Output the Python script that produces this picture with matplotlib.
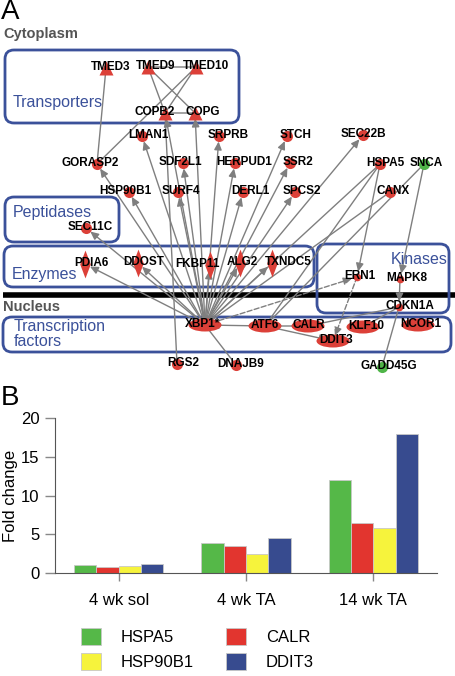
import matplotlib
matplotlib.use('Agg')
import matplotlib.pyplot as plt
from matplotlib.patches import FancyBboxPatch, FancyArrowPatch, Ellipse
import numpy as np

plt.rcParams['font.family'] = ['Liberation Sans', 'DejaVu Sans']

# ---- panel B data ----
conditions = ['4 wk sol', '4 wk TA', '14 wk TA']
genes = ['HSPA5', 'CALR', 'HSP90B1', 'DDIT3']
fold_hspa5 = [1.0, 3.85, 12.0]
fold_calr = [0.8, 3.5, 6.45]
fold_hsp90b1 = [0.85, 2.45, 5.8]
fold_ddit3 = [1.15, 4.55, 18.0]
bar_colors = ['#55b848', '#e2352f', '#f6f33c', '#374b8f']

# ---- panel A data: nodes (name, kind) ----
node_names = ['TMED3', 'TMED9', 'TMED10', 'COPB2', 'COPG',
              'LMAN1', 'SRPRB', 'STCH', 'SEC22B',
              'GORASP2', 'SDF2L1', 'HERPUD1', 'SSR2', 'HSPA5', 'SNCA',
              'HSP90B1', 'SURF4', 'DERL1', 'SPCS2', 'CANX',
              'SEC11C', 'PDIA6', 'DDOST', 'FKBP11', 'ALG2', 'TXNDC5',
              'ERN1', 'MAPK8', 'CDKN1A',
              'XBP1*', 'ATF6', 'CALR', 'KLF10', 'NCOR1', 'DDIT3',
              'RGS2', 'DNAJB9', 'GADD45G']
node_kinds = ['tri', 'tri', 'tri', 'tri', 'tri',
              'o', 'o', 'o', 'o',
              'o', 'o', 'o', 'o', 'o', 'g',
              'o', 'o', 'o', 'o', 'o',
              'o', 'd', 'd', 'd', 'd', 'd',
              's', 's', 's',
              'e', 'e', 'e', 'e', 'e', 'e',
              'o', 'o', 'g']

# edges: (source, target, style)  style: a=arrow, l=line, d=dashed arrow
edges = [('TMED3', 'GORASP2', 'l'), ('TMED10', 'GORASP2', 'l'),
         ('TMED9', 'TMED10', 'l'), ('TMED9', 'COPB2', 'l'),
         ('TMED9', 'COPG', 'l'), ('TMED10', 'COPB2', 'l'),
         ('COPB2', 'COPG', 'l'), ('COPB2', 'RGS2', 'l'),
         ('XBP1*', 'COPB2', 'a'), ('XBP1*', 'COPG', 'a'),
         ('XBP1*', 'GORASP2', 'a'), ('XBP1*', 'LMAN1', 'a'),
         ('XBP1*', 'SDF2L1', 'a'), ('XBP1*', 'SRPRB', 'a'),
         ('XBP1*', 'HERPUD1', 'a'), ('XBP1*', 'STCH', 'a'),
         ('XBP1*', 'SSR2', 'a'), ('XBP1*', 'SEC22B', 'a'),
         ('XBP1*', 'HSP90B1', 'a'), ('XBP1*', 'SURF4', 'a'),
         ('XBP1*', 'DERL1', 'a'), ('XBP1*', 'SPCS2', 'a'),
         ('XBP1*', 'SEC11C', 'a'), ('XBP1*', 'PDIA6', 'a'),
         ('XBP1*', 'DDOST', 'a'), ('XBP1*', 'FKBP11', 'a'),
         ('XBP1*', 'ALG2', 'a'), ('XBP1*', 'TXNDC5', 'a'),
         ('XBP1*', 'DNAJB9', 'l'), ('HSPA5', 'XBP1*', 'l'),
         ('HSPA5', 'ATF6', 'l'), ('CANX', 'XBP1*', 'l'),
         ('SNCA', 'ATF6', 'l'), ('HSPA5', 'ERN1', 'a'),
         ('SNCA', 'MAPK8', 'a'), ('MAPK8', 'CDKN1A', 'a'),
         ('XBP1*', 'ERN1', 'd'), ('ERN1', 'DDIT3', 'd'),
         ('ATF6', 'XBP1*', 'a'), ('ATF6', 'DDIT3', 'a'),
         ('ATF6', 'CALR', 'l'), ('CALR', 'CDKN1A', 'l'),
         ('KLF10', 'CDKN1A', 'l'), ('CDKN1A', 'GADD45G', 'l')]

# ---- panel A layout (pixel positions: marker x, marker y, label x) ----
node_xy = {
    'TMED3': (106, 68, 111), 'TMED9': (148, 67, 156), 'TMED10': (196, 67, 206),
    'COPB2': (165, 113, 155), 'COPG': (195, 113, 203),
    'LMAN1': (142, 136, 148), 'SRPRB': (219, 136, 228), 'STCH': (287, 136, 296),
    'SEC22B': (363, 135, 363),
    'GORASP2': (97, 164, 90), 'SDF2L1': (183, 163, 180), 'HERPUD1': (235, 163, 244),
    'SSR2': (290, 163, 298), 'HSPA5': (380, 164, 385), 'SNCA': (424, 164, 426),
    'HSP90B1': (129, 192, 125), 'SURF4': (178, 192, 181), 'DERL1': (243, 192, 250),
    'SPCS2': (295, 192, 302), 'CANX': (390, 192, 393),
    'SEC11C': (86, 228, 90), 'PDIA6': (85, 264, 91), 'DDOST': (138, 263, 144),
    'FKBP11': (210, 265, 198), 'ALG2': (240, 263, 242), 'TXNDC5': (272, 263, 288),
    'ERN1': (357, 277, 360), 'MAPK8': (400, 279, 407), 'CDKN1A': (399, 307, 410),
    'XBP1*': (205, 325, 203), 'ATF6': (265, 326, 265), 'CALR': (308, 326, 309),
    'KLF10': (363, 327, 366), 'NCOR1': (418, 325, 421), 'DDIT3': (333, 341, 336),
    'RGS2': (177, 364, 183), 'DNAJB9': (236, 365, 241), 'GADD45G': (382, 367, 389),
}

# group boxes: label, x0, y0, x1, y1
boxes = [('Transporters', 5, 50, 239, 123),
         ('Peptidases', 5, 197, 119, 242),
         ('Enzymes', 4, 246, 314, 287),
         ('Kinases', 317, 244, 449, 313),
         ('Transcription\nfactors', 3, 317, 451, 352)]
box_label_xy = {'Transporters': (13, 102, 'left'), 'Peptidases': (13, 213, 'left'),
                'Enzymes': (12, 275, 'left'), 'Kinases': (448, 260, 'right'),
                'Transcription\nfactors': (14, 334, 'left')}

RED = '#dc4038'
GREEN = '#4fb548'
BLUE_BOX = '#3b519a'
EDGE = '#7f7f7f'

fig = plt.figure(figsize=(4.56, 6.76), dpi=100)

# ---------- panel A ----------
axn = fig.add_axes([0, 0, 1, 1])
axn.set_xlim(0, 456)
axn.set_ylim(676, 0)
axn.axis('off')

for label, x0, y0, x1, y1 in boxes:
    axn.add_patch(FancyBboxPatch((x0, y0), x1 - x0, y1 - y0,
                                 boxstyle='round,pad=0,rounding_size=9',
                                 fill=False, edgecolor=BLUE_BOX, lw=2, zorder=2))
    lx, ly, ha = box_label_xy[label]
    axn.text(lx, ly, label, color=BLUE_BOX, fontsize=11.5, ha=ha, va='center',
             linespacing=0.95, zorder=6)

# membrane
axn.plot([3, 456], [295, 295], color='black', lw=4, solid_capstyle='butt', zorder=1)

for s, t, st in edges:
    xs, ys, _ = node_xy[s]
    xt, yt, _ = node_xy[t]
    if st == 'l':
        style = '-'
    else:
        style = '-|>,head_length=0.6,head_width=0.28'
    ls = '--' if st == 'd' else '-'
    arr = FancyArrowPatch((xs, ys), (xt, yt), arrowstyle=style, mutation_scale=8,
                          shrinkA=0, shrinkB=4 if st != 'l' else 0,
                          color=EDGE, lw=1, linestyle=ls, zorder=3)
    axn.add_patch(arr)

diamond = [(0, 1), (0.38, 0), (0, -1), (-0.38, 0), (0, 1)]
for name, kind in zip(node_names, node_kinds):
    mx, my, lx = node_xy[name]
    if kind == 'tri':
        axn.plot(mx, my, marker='^', ms=10, color=RED, mec='none', zorder=4)
    elif kind == 'o':
        axn.plot(mx, my, marker='o', ms=8, color=RED, mec='none', zorder=4)
    elif kind == 'g':
        axn.plot(mx, my, marker='o', ms=8, color=GREEN, mec='none', zorder=4)
    elif kind == 's':
        axn.plot(mx, my, marker='o', ms=5.5, color=RED, mec='none', zorder=4)
    elif kind == 'd':
        axn.plot(mx, my, marker=diamond, ms=20, color=RED, mec='none', zorder=4)
    elif kind == 'e':
        axn.add_patch(Ellipse((mx, my), 33, 13, color=RED, ec='none', zorder=4))
    axn.text(lx, my - 1, name, fontsize=8.5, fontweight='bold', ha='center',
             va='center', color='black', zorder=5)

axn.text(3, 34, 'Cytoplasm', fontsize=10.5, fontweight='bold', color='#555555',
         ha='left', va='center')
axn.text(3, 307, 'Nucleus', fontsize=10.5, fontweight='bold', color='#555555',
         ha='left', va='center')
axn.text(1, 12, 'A', fontsize=20, ha='left', va='center')
axn.text(1, 398, 'B', fontsize=20, ha='left', va='center')

# ---------- panel B ----------
ax = fig.add_axes([55 / 456, 1 - 573 / 676, (437 - 55) / 456, (573 - 418) / 676])
x = np.arange(len(conditions))
w = 0.176
series = [fold_hspa5, fold_calr, fold_hsp90b1, fold_ddit3]
handles = []
for i, (vals, c) in enumerate(zip(series, bar_colors)):
    b = ax.bar(x + (i - 1.5) * w, vals, w, color=c, edgecolor='#c8c8c8', lw=0.6,
               label=genes[i], zorder=2)
    handles.append(b)

ax.set_xlim(-0.5, 2.5)
ax.set_ylim(0, 20)
ax.set_yticks([0, 5, 10, 15, 20])
ax.set_xticks(x)
ax.set_xticklabels(conditions, fontsize=12)
ax.tick_params(axis='y', labelsize=12, length=7, width=1, color='#888888', pad=4)
ax.tick_params(axis='x', length=6, width=1, color='#888888', pad=8.5)
ax.set_ylabel('Fold change', fontsize=12)
ax.yaxis.set_label_coords(-37 / 382, 0.5)
for sp in ['top', 'right']:
    ax.spines[sp].set_visible(False)
ax.spines['left'].set_color('#555555')
ax.spines['bottom'].set_color('#555555')

order = [0, 2, 1, 3]
fig.legend([handles[k] for k in order], [genes[k] for k in order], ncol=2,
           loc='upper left', bbox_to_anchor=(81 / 456, 1 - 628 / 676),
           frameon=False, fontsize=12, handlelength=1.2, handleheight=1.2,
           handletextpad=1.2, columnspacing=1.9, labelspacing=0.45,
           borderpad=0, borderaxespad=0)

fig.savefig('out.png', dpi=100)
